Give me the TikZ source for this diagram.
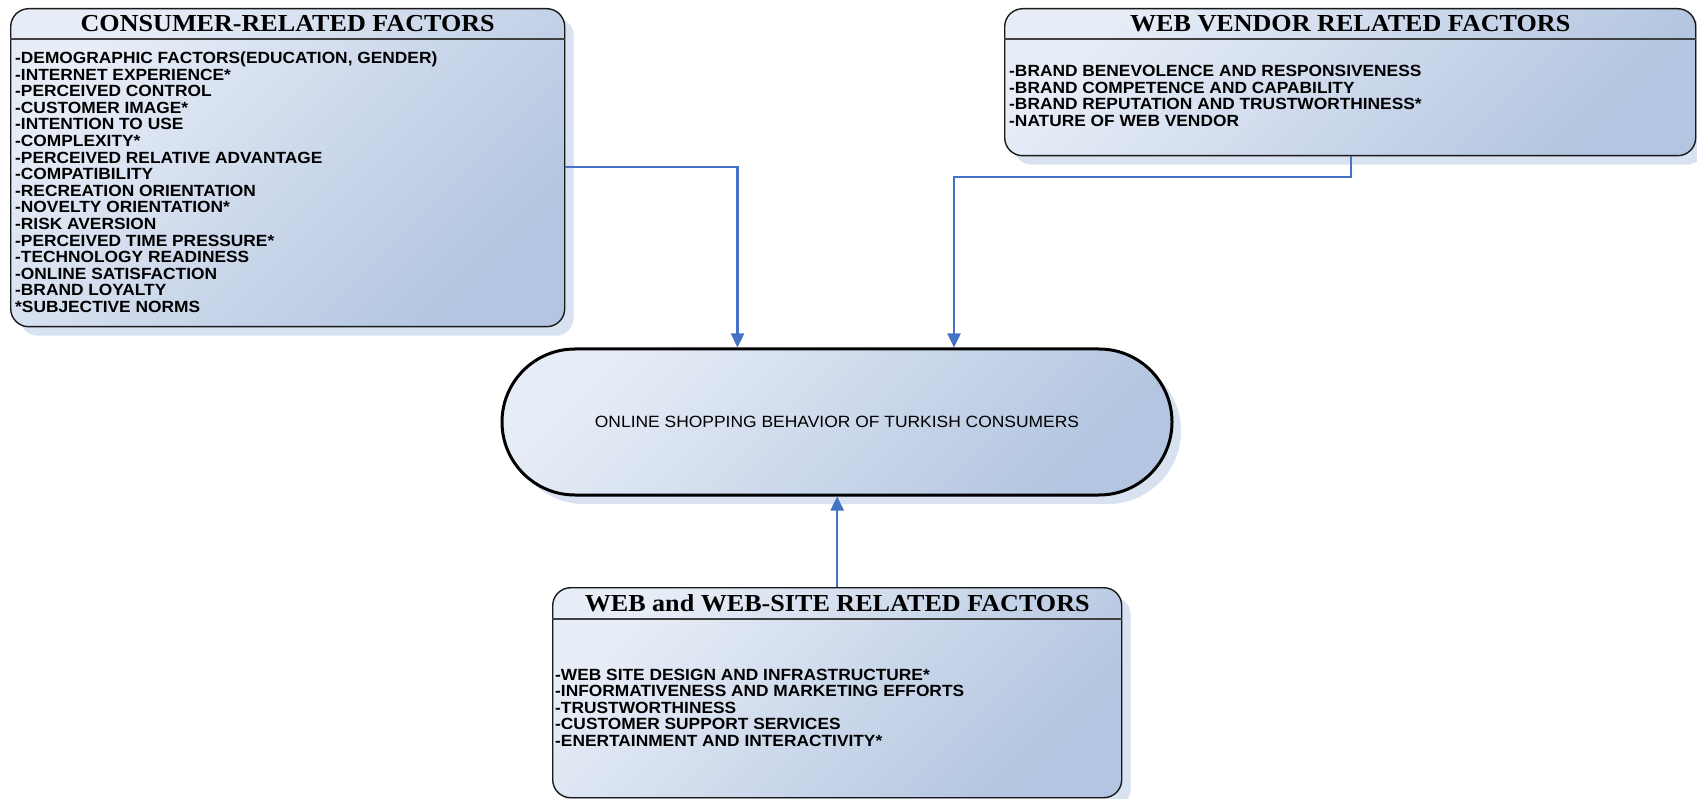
\documentclass[tikz,border=0pt]{standalone}
\usepackage{fontspec}
\setmainfont{Liberation Serif}
\newfontfamily\itemfont[FakeStretch=1.07]{Liberation Sans}
\newfontfamily\hdrfont[FakeStretch=1.07]{Liberation Serif}
\usetikzlibrary{shapes.misc,shadows,arrows.meta}
\definecolor{boxlight}{HTML}{E7EDF7}
\definecolor{boxdark}{HTML}{B3C5E0}
\definecolor{shadowblue}{HTML}{D9E2F1}
\definecolor{arrowblue}{HTML}{4472C4}
\definecolor{hdrgray}{HTML}{404040}
\tikzset{
  bluefill/.style={top color=boxlight, bottom color=boxdark, shading angle=45,
    drop shadow={shadow xshift=9pt, shadow yshift=-9pt, fill=shadowblue, opacity=1}},
  factorbox/.style={bluefill, draw=black!90, line width=1.4pt, rounded corners=18pt,
    rectangle, anchor=north west, inner sep=0pt},
  hdrline/.style={draw=hdrgray, line width=1.6pt},
  hdrtext/.style={font=\hdrfont\bfseries\fontsize{24.4}{28}\selectfont, inner sep=0pt},
  itemtext/.style={font=\itemfont\bfseries\fontsize{16.2}{16.6}\selectfont, align=left,
    anchor=north west, inner sep=0pt},
  stadium/.style={bluefill, rounded rectangle, draw=black, line width=3pt,
    minimum width=670pt, minimum height=146pt, inner sep=0pt,
    font=\itemfont\fontsize{16.3}{18}\selectfont},
  arr/.style={draw=arrowblue, line width=2.4pt, -{Triangle[width=13pt,length=14pt]}}
}
\begin{document}
\begin{tikzpicture}[x=1pt,y=-1pt]
\useasboundingbox (0,0) rectangle (1697,799);

% boxes
\node[factorbox, minimum width=554pt, minimum height=318pt] (cons) at (10,8) {};
\node[factorbox, minimum width=691pt, minimum height=147pt] (vend) at (1004,8) {};
\node[factorbox, minimum width=569pt, minimum height=210pt] (web) at (552,587) {};
\node[stadium] (stad) at (837,422) {ONLINE SHOPPING BEHAVIOR OF TURKISH CONSUMERS};

% header separators
\draw[hdrline] (cons.west |- 0,39) -- (cons.east |- 0,39);
\draw[hdrline] (vend.west |- 0,39) -- (vend.east |- 0,39);
\draw[hdrline] (web.west |- 0,619) -- (web.east |- 0,619);

% headers
\node[hdrtext] (consH) at (cons.north |- 0,24) {CONSUMER-RELATED FACTORS};
\node[hdrtext] (vendH) at (vend.north |- 0,24) {WEB VENDOR RELATED FACTORS};
\node[hdrtext] (webH) at (web.north |- 0,603.5) {WEB and WEB-SITE RELATED FACTORS};

% item lists
\node[itemtext] (consL) at (15,51.5) {-DEMOGRAPHIC FACTORS(EDUCATION, GENDER)\\
-INTERNET EXPERIENCE*\\
-PERCEIVED CONTROL\\
-CUSTOMER IMAGE*\\
-INTENTION TO USE\\
-COMPLEXITY*\\
-PERCEIVED RELATIVE ADVANTAGE\\
-COMPATIBILITY\\
-RECREATION ORIENTATION\\
-NOVELTY ORIENTATION*\\
-RISK AVERSION\\
-PERCEIVED TIME PRESSURE*\\
-TECHNOLOGY READINESS\\
-ONLINE SATISFACTION\\
-BRAND LOYALTY\\
*SUBJECTIVE NORMS};

\node[itemtext] (vendL) at (1009,65) {-BRAND BENEVOLENCE AND RESPONSIVENESS\\
-BRAND COMPETENCE AND CAPABILITY\\
-BRAND REPUTATION AND TRUSTWORTHINESS*\\
-NATURE OF WEB VENDOR};

\node[itemtext] (webL) at (555,668.5) {-WEB SITE DESIGN AND INFRASTRUCTURE*\\
-INFORMATIVENESS AND MARKETING EFFORTS\\
-TRUSTWORTHINESS\\
-CUSTOMER SUPPORT SERVICES\\
-ENERTAINMENT AND INTERACTIVITY*};

% connectors
\draw[arr] (cons.east |- 0,167) -| (737.5,0 |- stad.north);
\draw[arr] (vend.south -| 1351,0) |- (954,177) -- (954,0 |- stad.north);
\draw[arr] (web.north) -- (web.north |- stad.south);
\end{tikzpicture}
\end{document}
